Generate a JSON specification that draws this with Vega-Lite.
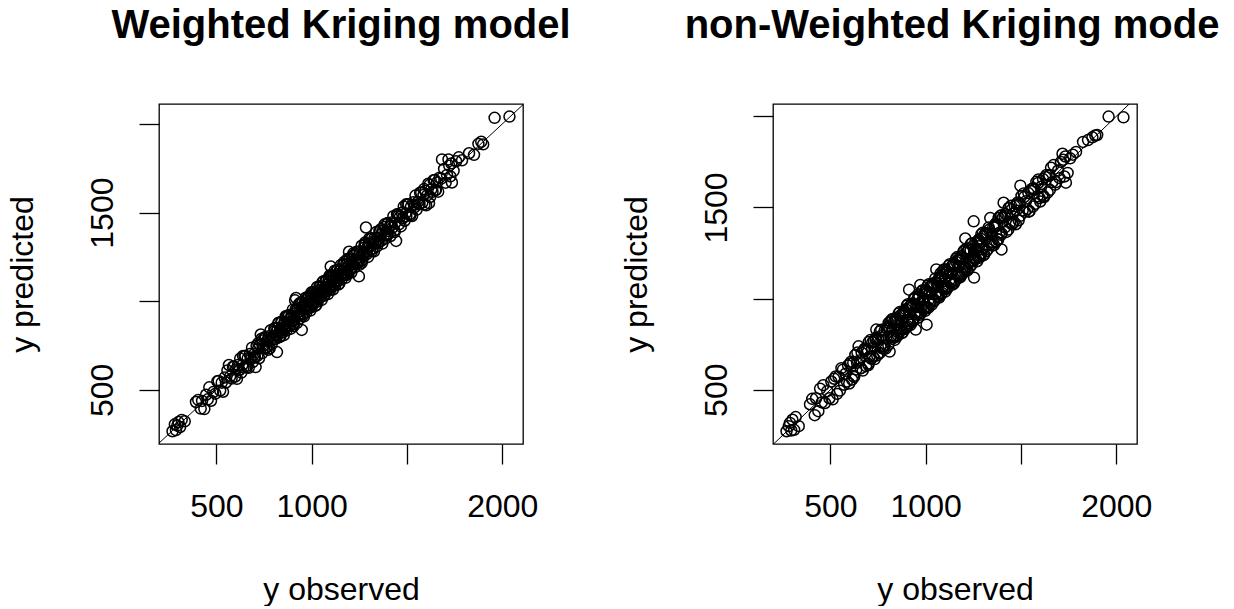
{
"$schema": "https://vega.github.io/schema/vega-lite/v6.json",
"background": "white",
"padding": {"left": 5, "top": 5, "right": 0, "bottom": 0},
"bounds": "flush",
"spacing": 250,
"datasets": {
"diag": [{"v": 100}, {"v": 2200}],
"pts": [
{"obs":270,"w":266,"nw":272},{"obs":282,"w":305,"nw":300},{"obs":288,"w":272,"nw":318},{"obs":295,"w":298,"nw":276},{"obs":301,"w":318,"nw":335},{"obs":310,"w":290,"nw":280},{"obs":318,"w":330,"nw":350},{"obs":334,"w":322,"nw":300},{"obs":393,"w":431,"nw":420},
{"obs":405,"w":443,"nw":450},{"obs":418,"w":394,"nw":360},{"obs":425,"w":437,"nw":453},{"obs":437,"w":391,"nw":382},{"obs":446,"w":472,"nw":506},{"obs":455,"w":446,"nw":430},{"obs":463,"w":514,"nw":525},{"obs":472,"w":438,"nw":427},{"obs":484,"w":487,"nw":492},{"obs":495,"w":478,"nw":453},
{"obs":505,"w":548,"nw":545},{"obs":512,"w":550,"nw":447},{"obs":520,"w":496,"nw":560},{"obs":528,"w":540,"nw":573},{"obs":535,"w":489,"nw":477},{"obs":543,"w":569,"nw":571},{"obs":550,"w":541,"nw":495},{"obs":558,"w":609,"nw":618},{"obs":566,"w":640,"nw":610},{"obs":572,"w":575,"nw":527},{"obs":580,"w":563,"nw":588},{"obs":587,"w":630,"nw":545},{"obs":593,"w":631,"nw":633},{"obs":599,"w":575,"nw":534},
{"obs":603,"w":615,"nw":643},{"obs":608,"w":562,"nw":653},{"obs":614,"w":640,"nw":556},{"obs":620,"w":611,"nw":648},{"obs":625,"w":676,"nw":570},{"obs":631,"w":597,"nw":691},{"obs":636,"w":639,"nw":611},{"obs":642,"w":625,"nw":704},{"obs":648,"w":691,"nw":738},{"obs":653,"w":691,"nw":661},{"obs":659,"w":635,"nw":617},{"obs":664,"w":676,"nw":704},{"obs":670,"w":624,"nw":605},{"obs":676,"w":702,"nw":716},{"obs":681,"w":672,"nw":726},{"obs":687,"w":738,"nw":629},{"obs":692,"w":658,"nw":720},{"obs":698,"w":701,"nw":643},
{"obs":702,"w":685,"nw":762},{"obs":706,"w":628,"nw":681},{"obs":711,"w":749,"nw":773},{"obs":715,"w":691,"nw":670},{"obs":719,"w":731,"nw":727},{"obs":724,"w":678,"nw":682},{"obs":728,"w":754,"nw":768},{"obs":733,"w":812,"nw":668},{"obs":737,"w":788,"nw":777},{"obs":741,"w":707,"nw":830},{"obs":746,"w":749,"nw":688},{"obs":750,"w":733,"nw":778},{"obs":754,"w":797,"nw":699},{"obs":759,"w":797,"nw":819},{"obs":763,"w":739,"nw":738},{"obs":767,"w":779,"nw":829},{"obs":772,"w":726,"nw":727},{"obs":776,"w":802,"nw":784},{"obs":781,"w":772,"nw":739},{"obs":785,"w":836,"nw":825},{"obs":790,"w":756,"nw":725},{"obs":796,"w":799,"nw":836},
{"obs":801,"w":784,"nw":846},{"obs":804,"w":847,"nw":746},{"obs":808,"w":846,"nw":836},{"obs":811,"w":787,"nw":709},{"obs":815,"w":827,"nw":875},{"obs":818,"w":713,"nw":793},{"obs":821,"w":847,"nw":883},{"obs":824,"w":815,"nw":779},{"obs":828,"w":879,"nw":836},{"obs":831,"w":797,"nw":789},{"obs":834,"w":837,"nw":874},{"obs":838,"w":821,"nw":773},{"obs":841,"w":884,"nw":881},{"obs":844,"w":882,"nw":889},{"obs":848,"w":824,"nw":790},{"obs":851,"w":863,"nw":879},{"obs":854,"w":808,"nw":799},{"obs":858,"w":884,"nw":918},{"obs":861,"w":852,"nw":836},{"obs":864,"w":915,"nw":926},{"obs":868,"w":834,"nw":823},{"obs":871,"w":874,"nw":879},{"obs":874,"w":857,"nw":832},{"obs":878,"w":921,"nw":918},{"obs":881,"w":919,"nw":816},{"obs":884,"w":860,"nw":924},{"obs":888,"w":900,"nw":933},{"obs":891,"w":845,"nw":833},{"obs":894,"w":920,"nw":922},{"obs":898,"w":889,"nw":843},
{"obs":901,"w":952,"nw":961},{"obs":904,"w":870,"nw":879},{"obs":907,"w":910,"nw":969},{"obs":910,"w":893,"nw":865},{"obs":913,"w":1005,"nw":1049},{"obs":916,"w":954,"nw":874},{"obs":918,"w":1018,"nw":958},{"obs":921,"w":933,"nw":856},{"obs":924,"w":878,"nw":964},{"obs":927,"w":953,"nw":972},{"obs":930,"w":921,"nw":872},{"obs":933,"w":984,"nw":961},{"obs":936,"w":902,"nw":881},{"obs":939,"w":942,"nw":999},{"obs":942,"w":925,"nw":917},{"obs":945,"w":988,"nw":1007},{"obs":948,"w":838,"nw":830},{"obs":951,"w":989,"nw":959},{"obs":954,"w":930,"nw":912},{"obs":957,"w":969,"nw":997},{"obs":960,"w":914,"nw":895},{"obs":963,"w":989,"nw":1003},{"obs":966,"w":957,"nw":1011},{"obs":969,"w":1020,"nw":911},{"obs":972,"w":938,"nw":1075},{"obs":975,"w":978,"nw":920},{"obs":978,"w":961,"nw":1038},{"obs":981,"w":1024,"nw":956},{"obs":984,"w":1022,"nw":1046},{"obs":987,"w":963,"nw":942},{"obs":990,"w":1002,"nw":998},{"obs":993,"w":947,"nw":951},{"obs":996,"w":1022,"nw":1036},{"obs":998,"w":989,"nw":933},{"obs":999,"w":1050,"nw":1039},{"obs":1000,"w":966,"nw":1045},
{"obs":1003,"w":1006,"nw":945},{"obs":1005,"w":988,"nw":857},{"obs":1008,"w":1051,"nw":953},{"obs":1011,"w":1049,"nw":1071},{"obs":1014,"w":990,"nw":989},{"obs":1017,"w":1029,"nw":1079},{"obs":1020,"w":974,"nw":975},{"obs":1023,"w":1049,"nw":1031},{"obs":1026,"w":1017,"nw":984},{"obs":1029,"w":1080,"nw":1069},{"obs":1032,"w":998,"nw":967},{"obs":1035,"w":1038,"nw":1075},{"obs":1038,"w":1021,"nw":1083},{"obs":1041,"w":1084,"nw":983},{"obs":1044,"w":1082,"nw":1072},{"obs":1047,"w":1023,"nw":992},{"obs":1050,"w":1062,"nw":1110},{"obs":1053,"w":1007,"nw":1028},{"obs":1056,"w":1082,"nw":1160},{"obs":1059,"w":1050,"nw":1014},{"obs":1062,"w":1113,"nw":1070},{"obs":1065,"w":1031,"nw":1023},{"obs":1068,"w":1071,"nw":1108},{"obs":1071,"w":1054,"nw":1006},{"obs":1074,"w":1117,"nw":1114},{"obs":1077,"w":1115,"nw":1122},{"obs":1080,"w":1056,"nw":1022},{"obs":1083,"w":1095,"nw":1111},{"obs":1086,"w":1040,"nw":1031},{"obs":1089,"w":1115,"nw":1149},{"obs":1092,"w":1083,"nw":1067},{"obs":1095,"w":1146,"nw":1157},{"obs":1098,"w":1064,"nw":1053},{"obs":1100,"w":1196,"nw":1108},{"obs":1097,"w":1080,"nw":1055},{"obs":1090,"w":1133,"nw":1130},
{"obs":1103,"w":1141,"nw":1038},{"obs":1106,"w":1082,"nw":1146},{"obs":1109,"w":1121,"nw":1154},{"obs":1112,"w":1066,"nw":1054},{"obs":1115,"w":1141,"nw":1143},{"obs":1118,"w":1109,"nw":1063},{"obs":1121,"w":1172,"nw":1181},{"obs":1124,"w":1090,"nw":1099},{"obs":1127,"w":1130,"nw":1189},{"obs":1130,"w":1113,"nw":1085},{"obs":1133,"w":1176,"nw":1141},{"obs":1136,"w":1174,"nw":1094},{"obs":1139,"w":1115,"nw":1179},{"obs":1142,"w":1154,"nw":1077},{"obs":1145,"w":1099,"nw":1185},{"obs":1148,"w":1174,"nw":1193},{"obs":1151,"w":1142,"nw":1093},{"obs":1154,"w":1205,"nw":1182},{"obs":1157,"w":1123,"nw":1102},{"obs":1160,"w":1163,"nw":1220},{"obs":1163,"w":1146,"nw":1138},{"obs":1166,"w":1209,"nw":1228},{"obs":1169,"w":1207,"nw":1124},{"obs":1172,"w":1148,"nw":1180},{"obs":1175,"w":1187,"nw":1133},{"obs":1178,"w":1132,"nw":1218},{"obs":1181,"w":1207,"nw":1116},{"obs":1184,"w":1175,"nw":1224},{"obs":1187,"w":1238,"nw":1232},{"obs":1190,"w":1156,"nw":1132},{"obs":1193,"w":1196,"nw":1221},{"obs":1196,"w":1279,"nw":1141},{"obs":1198,"w":1241,"nw":1258},{"obs":1199,"w":1237,"nw":1174},
{"obs":1203,"w":1179,"nw":1265},{"obs":1207,"w":1219,"nw":1162},{"obs":1208,"w":1162,"nw":1330},{"obs":1212,"w":1238,"nw":1170},{"obs":1216,"w":1207,"nw":1256},{"obs":1220,"w":1271,"nw":1155},{"obs":1224,"w":1190,"nw":1264},{"obs":1228,"w":1231,"nw":1273},{"obs":1232,"w":1215,"nw":1174},{"obs":1236,"w":1279,"nw":1264},{"obs":1240,"w":1278,"nw":1185},{"obs":1244,"w":1220,"nw":1304},{"obs":1248,"w":1140,"nw":1223},{"obs":1252,"w":1206,"nw":1424},{"obs":1254,"w":1280,"nw":1115},{"obs":1258,"w":1249,"nw":1266},{"obs":1262,"w":1313,"nw":1220},{"obs":1266,"w":1232,"nw":1306},{"obs":1270,"w":1273,"nw":1205},{"obs":1274,"w":1257,"nw":1314},{"obs":1278,"w":1321,"nw":1323},{"obs":1282,"w":1320,"nw":1224},{"obs":1285,"w":1416,"nw":1313},{"obs":1288,"w":1264,"nw":1233},{"obs":1292,"w":1304,"nw":1352},{"obs":1296,"w":1250,"nw":1271},{"obs":1299,"w":1325,"nw":1361},{"obs":1290,"w":1281,"nw":1245},{"obs":1280,"w":1331,"nw":1288},{"obs":1260,"w":1226,"nw":1218},
{"obs":1303,"w":1306,"nw":1343},{"obs":1307,"w":1290,"nw":1242},{"obs":1311,"w":1354,"nw":1351},{"obs":1315,"w":1353,"nw":1360},{"obs":1319,"w":1295,"nw":1261},{"obs":1323,"w":1335,"nw":1351},{"obs":1327,"w":1281,"nw":1272},{"obs":1331,"w":1357,"nw":1391},{"obs":1335,"w":1326,"nw":1310},{"obs":1339,"w":1390,"nw":1442},{"obs":1343,"w":1309,"nw":1298},{"obs":1347,"w":1350,"nw":1355},{"obs":1351,"w":1334,"nw":1309},{"obs":1355,"w":1398,"nw":1395},{"obs":1359,"w":1397,"nw":1294},{"obs":1363,"w":1339,"nw":1403},{"obs":1367,"w":1379,"nw":1412},{"obs":1371,"w":1325,"nw":1313},{"obs":1375,"w":1401,"nw":1403},{"obs":1379,"w":1370,"nw":1324},{"obs":1383,"w":1434,"nw":1443},{"obs":1387,"w":1353,"nw":1362},{"obs":1391,"w":1394,"nw":1453},{"obs":1395,"w":1378,"nw":1350},{"obs":1398,"w":1441,"nw":1270},{"obs":1399,"w":1437,"nw":1357},
{"obs":1404,"w":1380,"nw":1444},{"obs":1409,"w":1421,"nw":1526},{"obs":1414,"w":1368,"nw":1454},{"obs":1419,"w":1445,"nw":1464},{"obs":1424,"w":1415,"nw":1366},{"obs":1429,"w":1480,"nw":1457},{"obs":1434,"w":1400,"nw":1379},{"obs":1438,"w":1441,"nw":1498},{"obs":1443,"w":1340,"nw":1418},{"obs":1448,"w":1491,"nw":1510},{"obs":1453,"w":1491,"nw":1408},{"obs":1458,"w":1434,"nw":1466},{"obs":1463,"w":1475,"nw":1421},{"obs":1468,"w":1422,"nw":1508},{"obs":1473,"w":1499,"nw":1408},{"obs":1478,"w":1469,"nw":1518},{"obs":1483,"w":1534,"nw":1528},{"obs":1488,"w":1454,"nw":1430},{"obs":1493,"w":1496,"nw":1521},{"obs":1497,"w":1480,"nw":1620},
{"obs":1503,"w":1546,"nw":1563},{"obs":1509,"w":1547,"nw":1484},{"obs":1515,"w":1491,"nw":1577},{"obs":1521,"w":1533,"nw":1476},{"obs":1527,"w":1481,"nw":1535},{"obs":1533,"w":1559,"nw":1491},{"obs":1539,"w":1530,"nw":1579},{"obs":1545,"w":1596,"nw":1480},{"obs":1551,"w":1517,"nw":1591},{"obs":1557,"w":1560,"nw":1602},{"obs":1563,"w":1546,"nw":1505},{"obs":1569,"w":1612,"nw":1597},{"obs":1575,"w":1613,"nw":1520},{"obs":1581,"w":1557,"nw":1641},{"obs":1587,"w":1599,"nw":1562},{"obs":1592,"w":1546,"nw":1654},{"obs":1597,"w":1623,"nw":1552},{"obs":1601,"w":1541,"nw":1533},
{"obs":1606,"w":1597,"nw":1614},{"obs":1612,"w":1663,"nw":1570},{"obs":1616,"w":1553,"nw":1656},{"obs":1622,"w":1588,"nw":1557},{"obs":1628,"w":1631,"nw":1668},{"obs":1634,"w":1617,"nw":1679},{"obs":1640,"w":1683,"nw":1582},{"obs":1646,"w":1684,"nw":1674},{"obs":1652,"w":1628,"nw":1597},{"obs":1658,"w":1670,"nw":1718},{"obs":1664,"w":1618,"nw":1639},{"obs":1671,"w":1697,"nw":1733},{"obs":1684,"w":1800,"nw":1639},{"obs":1695,"w":1746,"nw":1703},
{"obs":1703,"w":1669,"nw":1661},{"obs":1710,"w":1713,"nw":1750},{"obs":1718,"w":1800,"nw":1795},{"obs":1722,"w":1765,"nw":1762},{"obs":1728,"w":1704,"nw":1670},{"obs":1733,"w":1778,"nw":1780},{"obs":1736,"w":1670,"nw":1636},{"obs":1745,"w":1736,"nw":1690},{"obs":1758,"w":1790,"nw":1770},{"obs":1772,"w":1812,"nw":1790},{"obs":1789,"w":1795,"nw":1805},
{"obs":1826,"w":1835,"nw":1860},{"obs":1852,"w":1826,"nw":1870},{"obs":1875,"w":1888,"nw":1885},{"obs":1890,"w":1900,"nw":1895},{"obs":1900,"w":1885,"nw":1898},{"obs":1960,"w":2035,"nw":1999},{"obs":2038,"w":2042,"nw":1995},
{"obs":620,"w":611,"nw":575},{"obs":640,"w":691,"nw":648},{"obs":660,"w":626,"nw":618},{"obs":680,"w":683,"nw":720},{"obs":700,"w":683,"nw":635},{"obs":720,"w":763,"nw":760},{"obs":740,"w":778,"nw":785},{"obs":760,"w":736,"nw":702},{"obs":770,"w":782,"nw":798},{"obs":780,"w":734,"nw":725},
{"obs":806,"w":832,"nw":866},{"obs":816,"w":807,"nw":791},{"obs":826,"w":877,"nw":888},{"obs":836,"w":802,"nw":791},{"obs":846,"w":849,"nw":854},{"obs":856,"w":839,"nw":814},{"obs":866,"w":909,"nw":906},{"obs":876,"w":914,"nw":811},{"obs":886,"w":862,"nw":926},{"obs":896,"w":908,"nw":941},
{"obs":906,"w":860,"nw":848},{"obs":919,"w":945,"nw":947},{"obs":929,"w":920,"nw":874},{"obs":941,"w":992,"nw":1001},{"obs":952,"w":918,"nw":927},{"obs":962,"w":965,"nw":1024},{"obs":973,"w":956,"nw":928},{"obs":983,"w":1026,"nw":991},{"obs":994,"w":1032,"nw":952},
{"obs":1004,"w":980,"nw":1044},{"obs":1015,"w":1027,"nw":950},{"obs":1025,"w":979,"nw":1065},{"obs":1036,"w":1062,"nw":1081},{"obs":1046,"w":1037,"nw":988},{"obs":1057,"w":1108,"nw":1085},{"obs":1067,"w":1033,"nw":1012},{"obs":1078,"w":1081,"nw":1138},{"obs":1088,"w":1071,"nw":1063},{"obs":1099,"w":1142,"nw":1161},
{"obs":1108,"w":1146,"nw":1063},{"obs":1119,"w":1095,"nw":1127},{"obs":1129,"w":1141,"nw":1087},{"obs":1140,"w":1094,"nw":1180},{"obs":1150,"w":1176,"nw":1085},{"obs":1161,"w":1152,"nw":1201},{"obs":1171,"w":1222,"nw":1216},{"obs":1182,"w":1148,"nw":1124},{"obs":1192,"w":1195,"nw":1220},
{"obs":1205,"w":1188,"nw":1150},{"obs":1214,"w":1257,"nw":1274},{"obs":1226,"w":1264,"nw":1201},{"obs":1238,"w":1214,"nw":1300},{"obs":1250,"w":1262,"nw":1205},{"obs":1263,"w":1217,"nw":1271},{"obs":1276,"w":1302,"nw":1234},{"obs":1289,"w":1280,"nw":1329},
{"obs":1302,"w":1353,"nw":1237},{"obs":1317,"w":1283,"nw":1357},{"obs":1333,"w":1336,"nw":1378},{"obs":1349,"w":1332,"nw":1291},{"obs":1365,"w":1408,"nw":1393},{"obs":1381,"w":1419,"nw":1326},{"obs":1397,"w":1373,"nw":1457},
{"obs":1416,"w":1428,"nw":1391},{"obs":1436,"w":1390,"nw":1498},{"obs":1456,"w":1482,"nw":1411},{"obs":1476,"w":1467,"nw":1484},{"obs":1496,"w":1547,"nw":1454},{"obs":1518,"w":1484,"nw":1558},{"obs":1542,"w":1545,"nw":1477},{"obs":1566,"w":1549,"nw":1606},{"obs":1590,"w":1633,"nw":1635},{"obs":1619,"w":1657,"nw":1561},{"obs":1649,"w":1625,"nw":1677},{"obs":1680,"w":1692,"nw":1625}
]
},
"hconcat": [
{
"width": 364, "height": 340,
"title": {"text": "Weighted Kriging model"},
"layer": [
{"data": {"name": "diag"}, "mark": {"type": "line", "clip": true, "color": "black", "strokeWidth": 1},
 "encoding": {"x": {"field": "v", "type": "quantitative", "scale": {"domain": [199, 2109], "nice": false, "zero": false}, "title": "y observed", "axis": {"values": [500, 1000, 1500, 2000]}},
              "y": {"field": "v", "type": "quantitative", "scale": {"domain": [194, 2113], "nice": false, "zero": false}, "title": "y predicted", "axis": {"values": [500, 1000, 1500, 2000]}}}},
{"data": {"name": "pts"}, "mark": {"type": "point", "shape": "circle", "filled": false, "color": "black", "strokeWidth": 1.5, "size": 120, "opacity": 1, "clip": true},
 "encoding": {"x": {"field": "obs", "type": "quantitative", "scale": {"domain": [199, 2109], "nice": false, "zero": false}, "title": "y observed", "axis": {"values": [500, 1000, 1500, 2000]}},
              "y": {"field": "w", "type": "quantitative", "scale": {"domain": [194, 2113], "nice": false, "zero": false}, "title": "y predicted", "axis": {"values": [500, 1000, 1500, 2000]}}}}
]
},
{
"width": 364, "height": 340,
"title": {"text": "non-Weighted Kriging mode", "dx": -3},
"layer": [
{"data": {"name": "diag"}, "mark": {"type": "line", "clip": true, "color": "black", "strokeWidth": 1},
 "encoding": {"x": {"field": "v", "type": "quantitative", "scale": {"domain": [199, 2109], "nice": false, "zero": false}, "title": "y observed", "axis": {"values": [500, 1000, 1500, 2000]}},
              "y": {"field": "v", "type": "quantitative", "scale": {"domain": [202, 2068], "nice": false, "zero": false}, "title": "y predicted", "axis": {"values": [500, 1000, 1500, 2000]}}}},
{"data": {"name": "pts"}, "mark": {"type": "point", "shape": "circle", "filled": false, "color": "black", "strokeWidth": 1.5, "size": 120, "opacity": 1, "clip": true},
 "encoding": {"x": {"field": "obs", "type": "quantitative", "scale": {"domain": [199, 2109], "nice": false, "zero": false}, "title": "y observed", "axis": {"values": [500, 1000, 1500, 2000]}},
              "y": {"field": "nw", "type": "quantitative", "scale": {"domain": [202, 2068], "nice": false, "zero": false}, "title": "y predicted", "axis": {"values": [500, 1000, 1500, 2000]}}}}
]
}
],
"resolve": {"scale": {"x": "independent", "y": "independent"}},
"config": {
"font": "Liberation Sans",
"view": {"stroke": "black", "strokeWidth": 1.3},
"axis": {"domain": false, "grid": false, "ticks": true, "tickColor": "black", "tickSize": 20, "tickWidth": 1.3,
         "labelFont": "Liberation Sans", "labelFontSize": 32, "labelColor": "black", "labelFlush": false, "labelOverlap": false,
         "titleFont": "Liberation Sans", "titleFontSize": 32, "titleFontWeight": "normal", "titleColor": "black"},
"axisX": {"labelPadding": 27, "titlePadding": 52, "labelExpr": "datum.value == 1500 ? '' : '' + datum.value"},
"axisY": {"labelAngle": -90, "labelPadding": 20, "titlePadding": 47, "labelExpr": "(datum.value == 500 || datum.value == 1500) ? '' + datum.value : ''"},
"title": {"font": "Liberation Sans", "fontSize": 40, "fontWeight": "bold", "color": "black", "anchor": "middle", "frame": "group", "baseline": "alphabetic", "offset": 58}
}
}
